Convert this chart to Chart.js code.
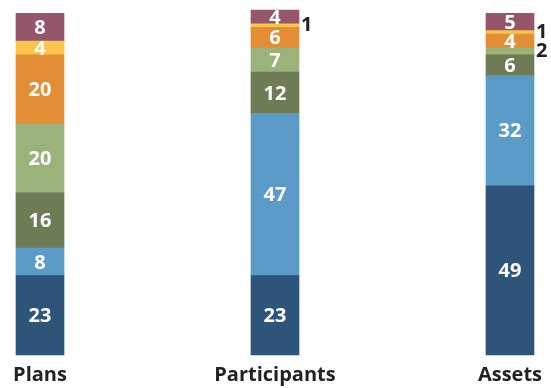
<!DOCTYPE html>
<html>
<head>
<meta charset="utf-8">
<script src="https://cdn.jsdelivr.net/npm/chart.js@4/dist/chart.umd.min.js"></script>
<style>
  html, body { margin: 0; padding: 0; background: #ffffff; }
  #wrap { width: 551px; height: 388px; position: relative; }
</style>
</head>
<body>
<div id="wrap"><canvas id="chart"></canvas></div>
<script>
// Share of plans, participants and assets (percent), stacked bottom to top
const categories = ['Plans', 'Participants', 'Assets'];
const seriesNames = ['S1', 'S2', 'S3', 'S4', 'S5', 'S6', 'S7'];
const s1 = [23, 23, 49];
const s2 = [8, 47, 32];
const s3 = [16, 12, 6];
const s4 = [20, 7, 2];
const s5 = [20, 6, 4];
const s6 = [4, 1, 1];
const s7 = [8, 4, 5];
const seriesValues = [s1, s2, s3, s4, s5, s6, s7];
const seriesColors = ['#2f5479', '#5b9bc8', '#6e7c55', '#9ab37a', '#e38e35', '#fbc54c', '#945669'];

const FONT = "'Open Sans', 'Noto Sans', sans-serif";

// Writes each segment's value: white inside the segment, or dark beside
// the bar when the segment is too thin to hold it.
const segmentLabels = {
  id: 'segmentLabels',
  afterDatasetsDraw(chart) {
    const ctx = chart.ctx;
    ctx.save();
    ctx.font = 'bold 20px ' + FONT;
    ctx.textBaseline = 'middle';
    chart.data.datasets.forEach((ds, di) => {
      const meta = chart.getDatasetMeta(di);
      meta.data.forEach((bar, i) => {
        const v = ds.data[i];
        const props = bar.getProps(['x', 'y', 'base', 'width'], true);
        const cy = (props.y + props.base) / 2;
        if (v <= 2) {
          ctx.fillStyle = '#222222';
          ctx.textAlign = 'left';
          ctx.fillText(String(v), props.x + props.width / 2 + 2, cy);
        } else {
          ctx.fillStyle = '#ffffff';
          ctx.textAlign = 'center';
          ctx.fillText(String(v), props.x, cy + 1);
        }
      });
    });
    ctx.restore();
  }
};

new Chart(document.getElementById('chart'), {
  type: 'bar',
  data: {
    labels: categories,
    datasets: seriesValues.map((vals, k) => ({
      label: seriesNames[k],
      data: vals,
      backgroundColor: seriesColors[k],
      borderWidth: 0,
      barThickness: 48,
      clip: false
    }))
  },
  options: {
    responsive: true,
    maintainAspectRatio: false,
    animation: false,
    layout: { padding: { left: 40, right: 41, top: 10, bottom: 0 } },
    plugins: {
      legend: { display: false },
      tooltip: { enabled: false }
    },
    scales: {
      x: {
        stacked: true,
        offset: false,
        grid: { display: false, drawTicks: false },
        border: { display: false },
        ticks: {
          color: '#222222',
          padding: 8,
          font: { family: FONT, size: 20, weight: 'bold', lineHeight: 1.2 }
        },
        afterFit(scale) { scale.height = 33; }
      },
      y: {
        stacked: true,
        display: false,
        min: 0,
        max: 100
      }
    }
  },
  plugins: [segmentLabels]
});
</script>
</body>
</html>
